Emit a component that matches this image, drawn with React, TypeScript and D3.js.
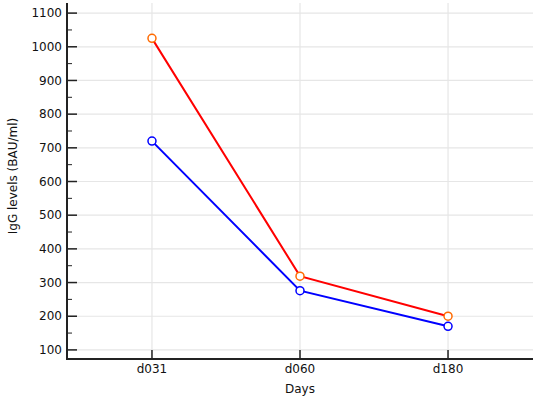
import { useRef, useEffect } from "react";
import * as d3 from "d3";

// chart data
const days = ["d031", "d060", "d180"];
const redValues = [1025, 319, 200];
const blueValues = [720, 276, 170];
const yTicks = [100, 200, 300, 400, 500, 600, 700, 800, 900, 1000, 1100];

const W = 536;
const H = 400;

const App = () => {
  const svgRef = useRef<SVGSVGElement>(null);

  useEffect(() => {
    const svg = d3.select(svgRef.current);
    svg.selectAll("*").remove();

    const left = 67;
    const right = 533;
    const top = 3;
    const bottom = 359;
    const font = "DejaVu Sans, Verdana, sans-serif";

    const x = d3.scalePoint<string>().domain(days).range([left, right]).padding(0.574);
    const y = d3.scaleLinear().domain([73, 1130]).range([bottom, top]);

    // grid
    svg.append("g")
      .selectAll("line")
      .data(yTicks)
      .enter()
      .append("line")
      .attr("x1", left)
      .attr("x2", right)
      .attr("y1", (d) => y(d))
      .attr("y2", (d) => y(d))
      .style("stroke", "#e6e6e6")
      .style("stroke-width", 1.2);

    svg.append("g")
      .selectAll("line")
      .data(days)
      .enter()
      .append("line")
      .attr("x1", (d) => x(d)!)
      .attr("x2", (d) => x(d)!)
      .attr("y1", top)
      .attr("y2", bottom)
      .style("stroke", "#e6e6e6")
      .style("stroke-width", 1.2);

    // y axis
    const minor = d3.range(150, 1130, 100);
    svg.append("g")
      .selectAll("line")
      .data(minor)
      .enter()
      .append("line")
      .attr("x1", left)
      .attr("x2", left + 5)
      .attr("y1", (d) => y(d))
      .attr("y2", (d) => y(d))
      .style("stroke", "#222")
      .style("stroke-width", 1);

    svg.append("g")
      .selectAll("line")
      .data(yTicks)
      .enter()
      .append("line")
      .attr("x1", left)
      .attr("x2", left + 10)
      .attr("y1", (d) => y(d))
      .attr("y2", (d) => y(d))
      .style("stroke", "#222")
      .style("stroke-width", 1.5);

    svg.append("g")
      .selectAll("text")
      .data(yTicks)
      .enter()
      .append("text")
      .attr("x", left - 5)
      .attr("y", (d) => y(d))
      .attr("dy", "0.35em")
      .attr("text-anchor", "end")
      .style("font-family", font)
      .style("font-size", "12px")
      .style("fill", "#111")
      .text((d) => d);

    // x axis ticks
    svg.append("g")
      .selectAll("line")
      .data(days)
      .enter()
      .append("line")
      .attr("x1", (d) => x(d)!)
      .attr("x2", (d) => x(d)!)
      .attr("y1", bottom)
      .attr("y2", bottom - 9)
      .style("stroke", "#222")
      .style("stroke-width", 1.5);

    svg.append("g")
      .selectAll("text")
      .data(days)
      .enter()
      .append("text")
      .attr("x", (d) => x(d)!)
      .attr("y", bottom + 14)
      .attr("text-anchor", "middle")
      .style("font-family", font)
      .style("font-size", "12px")
      .style("fill", "#111")
      .text((d) => d);

    // axis lines
    svg.append("line")
      .attr("x1", left)
      .attr("x2", left)
      .attr("y1", top)
      .attr("y2", bottom + 1)
      .style("stroke", "#222")
      .style("stroke-width", 2);
    svg.append("line")
      .attr("x1", left)
      .attr("x2", right)
      .attr("y1", bottom)
      .attr("y2", bottom)
      .style("stroke", "#222")
      .style("stroke-width", 2);

    // labels
    svg.append("text")
      .attr("x", (left + right) / 2)
      .attr("y", 393)
      .attr("text-anchor", "middle")
      .style("font-family", font)
      .style("font-size", "12px")
      .style("fill", "#111")
      .text("Days");

    svg.append("text")
      .attr("transform", "translate(17,176) rotate(-90)")
      .attr("text-anchor", "middle")
      .style("font-family", font)
      .style("font-size", "12px")
      .style("fill", "#111")
      .text("IgG levels (BAU/ml)");

    // series
    const series = [
      { values: redValues, line: "#ff0000", marker: "#ff6a00" },
      { values: blueValues, line: "#0000ff", marker: "#0000ff" },
    ];

    const line = d3
      .line<number>()
      .x((_, i) => x(days[i])!)
      .y((d) => y(d));

    series.forEach((s) => {
      svg.append("path")
        .datum(s.values)
        .attr("fill", "none")
        .attr("stroke", s.line)
        .attr("stroke-width", 2)
        .attr("d", line);

      svg.append("g")
        .selectAll("circle")
        .data(s.values)
        .enter()
        .append("circle")
        .attr("cx", (_, i) => x(days[i])!)
        .attr("cy", (d) => y(d))
        .attr("r", 4)
        .attr("fill", "white")
        .attr("stroke", s.marker)
        .attr("stroke-width", 1.5);
    });
  }, []);

  return (
    <svg
      ref={svgRef}
      width={W}
      height={H}
      style={{ position: "absolute", left: 0, top: 0, background: "white" }}
    ></svg>
  );
};

export default App;
